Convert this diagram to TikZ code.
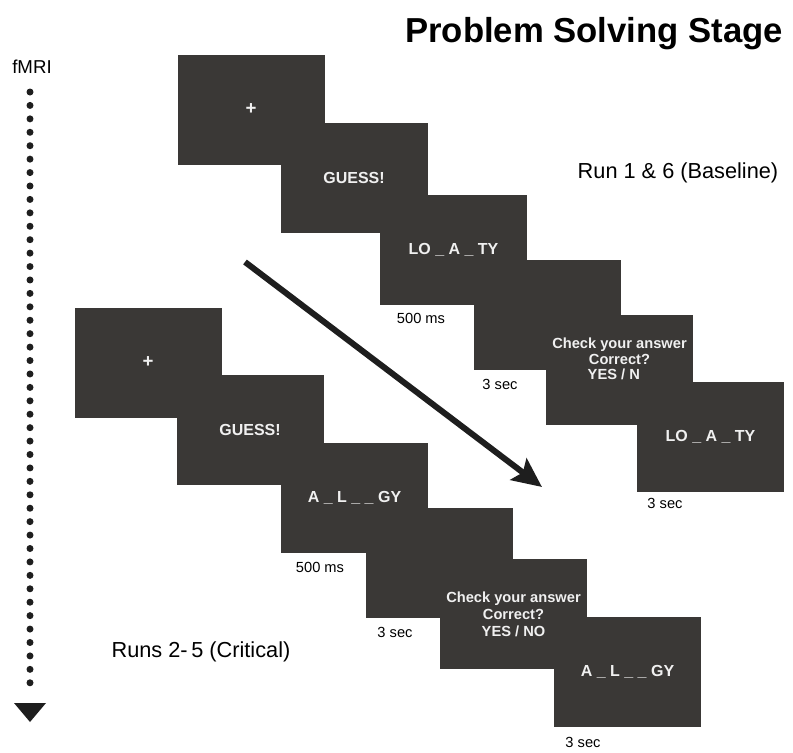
\documentclass[tikz,border=0pt]{standalone}
\usepackage{fontspec}
\setmainfont{Liberation Sans}
\usetikzlibrary{arrows.meta}

\definecolor{screengray}{RGB}{58,56,54}
\definecolor{screenink}{RGB}{240,240,240}
\definecolor{inkblack}{RGB}{30,30,30}

\tikzset{every picture/.style={line width=0.75pt}}
\tikzset{
	screen/.style={fill=screengray, draw=none, inner sep=0pt, minimum width=110.25pt, minimum height=82.5pt, text=screenink, font=\fontsize{12}{14}\selectfont\bfseries},
	fixation/.style={screen, font=\fontsize{14}{16}\selectfont\bfseries},
	cue/.style={text=screenink, font=\fontsize{11}{13}\selectfont\bfseries, inner sep=0pt, anchor=base},
	dur/.style={font=\fontsize{11}{13}\selectfont, inner sep=0pt},
	runlabel/.style={font=\fontsize{16.3}{19}\selectfont, inner sep=0pt, anchor=base}}

\begin{document}
\begin{tikzpicture}[x=0.75pt,y=0.75pt,yscale=-1,xscale=1]
	\useasboundingbox (0,0) rectangle (793,753);

	% Text Node
	\node[font=\fontsize{26}{30}\selectfont\bfseries, inner sep=0pt, anchor=base] (title) at (594,42) {Problem Solving Stage};
	% Text Node
	\node[font=\fontsize{14}{16}\selectfont, inner sep=0pt, anchor=base] (mri) at (32,73) {fMRI};

	%Dotted time line
	\coordinate (dotA) at (30,92);
	\coordinate (dotB) at (30,696);
	\draw [inkblack, line width=5.25pt, line cap=round, dash pattern=on 0pt off 10.07pt] (dotA) -- (dotB);
	\fill [inkblack] (14,703) -- (46,703) -- (30,722) -- cycle;

	%Run 1 & 6 screens
	\node[fixation] (u1) at (251,109.5) {+};
	\node[screen] (u2) at (354,177.5) {GUESS!};
	\node[screen] (u3) at (453.5,249.5) {LO \_ A \_ TY};
	\node[screen] (u4) at (547,314.5) {};
	\node[screen] (u5) at (619.5,370) {};
	\node[cue] (u5a) at (619.5,348) {Check your answer};
	\node[cue] (u5b) at (619.5,364) {Correct?};
	\begin{scope}
		\clip (540,366) rectangle (638,400);
		\node[cue] (u5c) at (619.5,379) {YES / NO};
	\end{scope}
	\node[screen] (u6) at (710.5,436.5) {LO \_ A \_ TY};

	% Text Node
	\node[dur] (u3d) at (421,318) {500 ms};
	% Text Node
	\node[dur] (u4d) at (500,384) {3 sec};
	% Text Node
	\node[dur] (u6d) at (665,503) {3 sec};
	% Text Node
	\node[runlabel] (runA) at (678,178) {Run 1 \& 6 (Baseline)};

	%Runs 2-5 screens
	\node[fixation] (l1) at (148,362.5) {+};
	\node[screen] (l2) at (250,429.5) {GUESS!};
	\node[screen] (l3) at (354.5,498) {A \_ L \_ \_ GY};
	\node[screen] (l4) at (439,562.5) {};
	\node[screen] (l5) at (513.5,613.5) {};
	\node[cue] (l5a) at (513.5,602) {Check your answer};
	\node[cue] (l5b) at (513.5,619) {Correct?};
	\node[cue] (l5c) at (513.5,636) {YES / NO};
	\node[screen] (l6) at (627.5,672) {A \_ L \_ \_ GY};

	% Text Node
	\node[dur] (l3d) at (320,567) {500 ms};
	% Text Node
	\node[dur] (l4d) at (395,632) {3 sec};
	% Text Node
	\node[dur] (l6d) at (583,742) {3 sec};
	% Text Node
	\node[runlabel] (runB) at (201,657) {Runs 2-\,5 (Critical)};

	%Straight Lines
	\coordinate (arrS) at (245,262);
	\coordinate (arrE) at (542,487);
	\draw [inkblack, line width=4.5pt, -{Stealth[length=22pt, width=20pt, inset=4pt]}] (arrS) -- (arrE);

\end{tikzpicture}
\end{document}
